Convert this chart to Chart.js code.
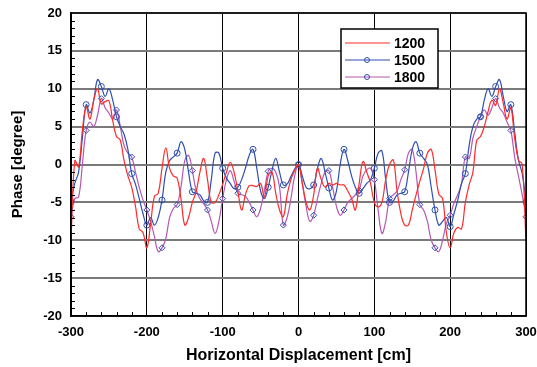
<!DOCTYPE html>
<html>
<head>
<meta charset="utf-8">
<script src="https://cdn.jsdelivr.net/npm/chart.js@4/dist/chart.umd.min.js"></script>
<style>
  html, body { margin: 0; padding: 0; background: #fff; }
  #wrap { width: 537px; height: 367px; }
</style>
</head>
<body>
<div id="wrap"><canvas id="myChart" width="537" height="367"></canvas></div>
<script>
// horizontal displacement [cm], sampled every 5 cm
const xs = Array.from({length: 121}, (_, i) => -300 + i * 5);

const s1200 = [
  -10.0, 0.5, -0.3, 4.5, 7.6, 6.0, 8.5, 10.0, 8.0, 8.3,
  8.4, 5.8, 3.7, 3.2, 0.5, -1.5, -3.0, -5.5, -8.5, -9.0,
  -11.0, -7.8, -4.2, -3.8, -0.5, 2.2, -0.5, -1.5, -1.8, -4.5,
  -8.0, -7.0, -5.0, -3.6, -1.0, 0.8, -2.0, -5.0, -5.0, -4.0,
  -2.6, -1.0, 0.3, -1.0, -3.5, -6.0, -4.0, -2.8, -2.8, -2.9,
  -2.5, -4.3, -1.5, -1.0, -3.8, -6.0, -6.9, -4.0, -2.0, -0.8,
  0.0,
  -2.5, -5.0, -6.0, -4.0, -0.5, -2.0, -3.0, -2.5, -2.7, -2.5,
  -2.7, -2.7, -3.5, -4.5, -6.0, -2.5, 0.4, -1.0, -2.5, -5.0,
  -5.6, -5.0, -2.0, 0.0, 0.6, -3.5, -6.5, -8.0, -8.0, -6.0,
  -4.0, -2.2, -0.5, 1.5, 2.0, -0.7, -3.9, -4.5, -9.0, -11.0,
  -9.0, -8.3, -8.5, -5.0, -2.7, -1.0, 3.2, 3.7, 5.0, 7.0,
  8.5, 7.8, 10.0, 8.1, 6.0, 7.5, 3.5, 0.6, 0.0, -10.2
];

const s1500 = [
  -4.9, -2.5, -1.0, 3.5, 7.9, 6.8, 8.5, 11.2, 10.3, 9.0,
  10.0, 8.5, 6.3, 5.0, 4.0, 2.0, -1.2, -2.6, -4.5, -6.5,
  -8.0, -7.0, -8.0, -7.0, -4.7, -1.0, 0.5, 1.0, 1.5, 3.0,
  2.0, -1.0, -3.6, -3.8, -4.0, -4.8, -5.0, -2.0, 1.5, 1.5,
  -0.5, -1.8, -2.5, -3.2, -3.0, -2.0, -0.5, 1.2, 2.0, -0.5,
  -3.5, -4.5, -3.0, -0.8, 0.8, -1.0, -2.7, -2.6, -1.6, -0.6,
  0.0,
  -1.5, -3.0, -3.2, -2.7, -0.5, 0.8, -1.0, -3.1, -4.7, -3.5,
  0.0, 2.0, 0.5, -1.5, -3.0, -3.8, -3.2, -2.5, -2.0, -0.5,
  1.5, 1.8, -2.0, -5.0, -4.8, -4.0, -3.8, -3.6, -1.0, 2.0,
  3.0, 1.5, 0.8, 0.0, -3.0, -6.0, -8.0, -7.5, -7.0, -8.2,
  -6.5, -4.7, -2.5, -1.2, 2.5, 5.0, 6.0, 6.3, 8.5, 10.0,
  9.0, 10.3, 11.2, 9.0, 7.0, 7.9, 4.3, 0.6, -1.2, -4.9
];

const s1800 = [
  -6.9, -4.5, -4.3, 0.0, 4.5, 5.6, 5.0, 6.5, 8.7, 7.5,
  6.8, 6.0, 7.2, 5.0, 2.5, 1.5, 1.0, -1.0, -3.0, -4.7,
  -6.0, -7.5, -9.5, -11.5, -11.0, -9.8, -7.0, -5.8, -5.3, -3.0,
  0.5, 1.2, -0.8, -3.4, -4.5, -5.2, -6.0, -7.5, -9.1, -7.5,
  -4.5, -2.0, -0.8, -2.2, -3.8, -4.0, -4.2, -5.0, -6.0, -6.9,
  -5.8, -3.5, -0.9, -0.5, -1.0, -3.0, -8.0, -7.0, -4.5, -1.5,
  0.0,
  -2.5, -5.5, -7.5, -6.7, -4.5, -2.5, -1.0, -0.8, -3.0, -5.5,
  -6.7, -6.0, -5.0, -4.5, -4.0, -3.4, -1.5, -0.7, -0.5, -2.0,
  -6.0, -9.1, -7.5, -4.5, -4.0, -3.5, -2.0, -0.7, 1.5, 2.0,
  -1.0, -5.3, -6.0, -7.5, -10.0, -11.0, -11.5, -10.0, -7.8, -6.7,
  -5.1, -4.0, -2.5, 1.0, 0.8, 3.5, 5.0, 6.3, 7.2, 6.5,
  7.5, 8.7, 7.5, 6.8, 5.6, 4.5, 1.0, -1.5, -4.0, -6.9
];

const seriesLabels = ['1200', '1500', '1800'];
const yTicks = [-20, -15, -10, -5, 0, 5, 10, 15, 20];
const xTicks = [-300, -200, -100, 0, 100, 200, 300];

const FONT = '"Liberation Sans", Arial, sans-serif';
const RED = '#ff2a2a';
const BLUE = '#2f4fb0';
const PURPLE = '#b458b4';

const pts = arr => xs.map((x, i) => ({x, y: arr[i]}));
const every20 = r => ctx => (ctx.index % 4 === 0 ? r : 0);

// frame, minor ticks and the boxed legend
const decor = {
  id: 'decor',
  afterDraw(chart) {
    const {ctx, chartArea: a, scales: {x, y}} = chart;
    ctx.save();
    ctx.strokeStyle = '#000';
    ctx.lineWidth = 1;
    ctx.beginPath();
    for (let v = -19; v <= 19; v++) {
      if (v % 5 === 0) continue;
      const py = Math.round(y.getPixelForValue(v)) + 0.5;
      ctx.moveTo(a.left, py);
      ctx.lineTo(a.left + 4, py);
    }
    for (let v = -280; v <= 280; v += 20) {
      if (v % 100 === 0) continue;
      const px = Math.round(x.getPixelForValue(v)) + 0.5;
      ctx.moveTo(px, a.bottom);
      ctx.lineTo(px, a.bottom - 4);
    }
    ctx.stroke();

    ctx.lineWidth = 1.5;
    ctx.strokeRect(a.left, a.top, a.right - a.left, a.bottom - a.top);

    // legend box
    const bx = 341, by = 29, bw = 97, bh = 59;
    ctx.fillStyle = '#fff';
    ctx.fillRect(bx, by, bw, bh);
    ctx.lineWidth = 1.5;
    ctx.strokeStyle = '#000';
    ctx.strokeRect(bx, by, bw, bh);
    ctx.font = 'bold 14px ' + FONT;
    ctx.textBaseline = 'middle';
    chart.data.datasets.forEach((ds, i) => {
      const ly = 43 + i * 17;
      ctx.strokeStyle = ds.borderColor;
      ctx.lineWidth = 1.2;
      ctx.beginPath();
      ctx.moveTo(345, ly);
      ctx.lineTo(390, ly);
      ctx.stroke();
      if (i > 0) {
        ctx.strokeStyle = BLUE;
        ctx.lineWidth = 1;
        ctx.beginPath();
        ctx.arc(367, ly, 2.5, 0, Math.PI * 2);
        ctx.stroke();
      }
      ctx.fillStyle = '#000';
      ctx.fillText(ds.label, 394, ly + 1);
    });
    ctx.restore();
  }
};

const config = {
  type: 'line',
  data: {
    datasets: [
      {
        label: seriesLabels[0],
        data: pts(s1200),
        borderColor: RED,
        borderWidth: 1.2,
        pointRadius: 0,
        tension: 0.4
      },
      {
        label: seriesLabels[1],
        data: pts(s1500),
        borderColor: BLUE,
        borderWidth: 1.2,
        pointRadius: every20(3),
        pointStyle: 'circle',
        pointBorderColor: BLUE,
        pointBackgroundColor: 'rgba(255,255,255,0)',
        pointBorderWidth: 1,
        tension: 0.4
      },
      {
        label: seriesLabels[2],
        data: pts(s1800),
        borderColor: PURPLE,
        borderWidth: 1.2,
        pointRadius: every20(3),
        pointStyle: 'rectRot',
        pointBorderColor: BLUE,
        pointBackgroundColor: 'rgba(255,255,255,0)',
        pointBorderWidth: 1,
        tension: 0.4
      }
    ]
  },
  options: {
    responsive: false,
    animation: false,
    layout: {padding: {top: 13, right: 11, left: 0, bottom: 0}},
    plugins: {
      legend: {display: false},
      tooltip: {enabled: false}
    },
    scales: {
      x: {
        type: 'linear',
        min: -300,
        max: 300,
        afterBuildTicks: s => { s.ticks = xTicks.map(v => ({value: v})); },
        afterFit: s => { s.height = 51; s.paddingLeft = 0; s.paddingRight = 0; },
        ticks: {
          color: '#000',
          padding: 9,
          maxRotation: 0,
          font: {family: FONT, size: 13, weight: 'bold'}
        },
        grid: {color: '#000', lineWidth: 1, drawTicks: false},
        border: {display: true, color: '#000', width: 1.5},
        title: {
          display: true,
          text: 'Horizontal Displacement [cm]',
          color: '#000',
          font: {family: FONT, size: 16, weight: 'bold'},
          padding: {top: 0, bottom: 2}
        }
      },
      y: {
        min: -20,
        max: 20,
        afterBuildTicks: s => { s.ticks = yTicks.map(v => ({value: v})); },
        afterFit: s => { s.width = 71; s.paddingTop = 0; s.paddingBottom = 0; },
        ticks: {
          color: '#000',
          padding: 9,
          font: {family: FONT, size: 13, weight: 'bold'}
        },
        grid: {color: '#7a7a7a', lineWidth: 2, drawTicks: false},
        border: {display: true, color: '#000', width: 1.5},
        title: {
          display: true,
          text: 'Phase [degree]',
          color: '#000',
          font: {family: FONT, size: 15, weight: 'bold'},
          padding: {top: 9, bottom: 0}
        }
      }
    }
  },
  plugins: [decor]
};

new Chart(document.getElementById('myChart'), config);
</script>
</body>
</html>
